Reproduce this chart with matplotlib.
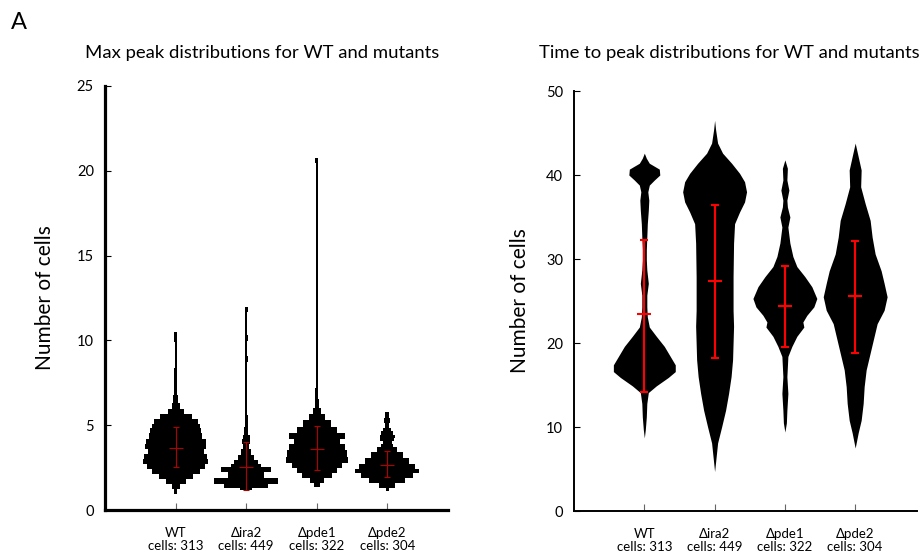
import numpy as np
import matplotlib
matplotlib.use("Agg")
import matplotlib.pyplot as plt

plt.rcParams['font.family'] = ['Lato', 'DejaVu Sans']

groups = ['WT\ncells: 313', '\u0394ira2\ncells: 449', '\u0394pde1\ncells: 322', '\u0394pde2\ncells: 304']

# max peak: violin outlines (y level, half width in relative units)
peak_y = [
    [0.79, 1.08, 1.38, 1.67, 1.97, 2.26, 2.56, 2.85, 3.15, 3.44, 3.73, 4.03, 4.32, 4.72, 4.91,
     5.21, 5.5, 5.8, 6.09, 6.49, 7.08, 7.7, 8.1, 8.6, 9.5, 10.3, 10.67],
    [1.14, 1.25, 1.4, 1.7, 2.05, 2.4, 2.62, 2.85, 3.1, 3.4, 3.75, 4.05, 4.3, 4.6, 5.2, 6.0,
     7.0, 8.5, 8.9, 9.3, 9.8, 10.1, 10.5, 11.5, 11.85, 12.1],
    [1.28, 1.47, 1.77, 2.06, 2.36, 2.65, 2.95, 3.34, 3.73, 4.03, 4.32, 4.72, 5.11, 5.5, 5.8,
     6.2, 6.9, 7.5, 10.0, 15.0, 20.3, 20.6, 20.95],
    [1.1, 1.18, 1.47, 1.77, 2.06, 2.32, 2.56, 2.85, 3.24, 3.63, 3.85, 3.95, 4.15, 4.32, 4.55,
     4.72, 5.0, 5.3, 5.6, 5.99],
]
peak_w = [
    [0, 1.5, 4, 10, 17, 24, 29, 32.3, 31.3, 28, 30.7, 30, 26.7, 25.7, 24,
     22, 16, 8, 4, 2.5, 1.2, 1.5, 1.8, 1, 1, 1.5, 0],
    [0, 6, 22, 32, 18, 25, 15, 12, 8, 5, 3, 4, 3.5, 2, 1.5, 1.2,
     1, 0.8, 1.6, 0.8, 0.8, 1.6, 0.8, 0.8, 1.6, 0],
    [0, 3, 7, 15, 20, 25, 31, 30, 28, 23, 28, 20, 14, 8, 4,
     2, 1.6, 1, 0.8, 0.8, 0.8, 1.5, 0],
    [0, 1.5, 8, 18, 26, 32, 28, 22, 16, 10, 6, 4.5, 7, 7.5, 6,
     4, 2, 3, 2, 0],
]
peak_mean = [3.66, 2.52, 3.58, 2.63]
peak_lo = [2.52, 1.2, 2.34, 1.92]
peak_hi = [4.87, 3.99, 4.95, 3.49]

# time to peak
time_y = [
    [8.7, 9.7, 11.2, 12.8, 14.1, 14.9, 15.9, 16.6, 17.4, 18.4, 19.6, 20.8, 21.9, 23.1, 24.3,
     25.7, 27.1, 28.7, 29.9, 31.1, 32.6, 34.2, 35.8, 37.0, 38.0, 38.8, 39.4, 40.0, 40.7, 41.4,
     42.0, 42.6],
    [4.7, 6.4, 8.1, 10.0, 12.0, 14.0, 16.0, 18.0, 20.0, 22.0, 23.9, 27.9, 31.9, 34.2, 35.6,
     36.8, 38.0, 39.2, 40.2, 41.4, 42.6, 43.8, 45.4, 46.5],
    [9.4, 10.5, 12.0, 14.0, 16.0, 18.4, 19.6, 20.8, 21.9, 22.5, 23.3, 24.3, 25.3, 26.7, 27.9,
     29.1, 30.3, 31.9, 33.8, 35.0, 36.2, 37.0, 38.2, 39.4, 40.8, 41.8],
    [7.5, 9.3, 10.8, 12.8, 14.8, 16.8, 18.8, 20.8, 22.3, 23.9, 25.5, 27.1, 28.6, 30.6, 32.6,
     34.6, 36.6, 38.6, 40.6, 42.2, 43.8],
]
time_w = [
    [0, 1, 2, 2.5, 4, 12, 24, 31, 31, 26, 20, 12, 5, 3, 2.5,
     2.5, 4, 2.5, 2, 2, 2.5, 3, 4, 4.5, 3.5, 5, 10, 15.5, 15, 5,
     2, 0],
    [0, 1.5, 3, 7, 11, 14, 16.5, 18, 18.5, 19, 18.5, 18.5, 19, 20, 25,
     30, 32, 30, 25, 17, 8, 3, 1, 0],
    [0, 1.5, 2, 3, 2, 3, 7, 12, 19, 18, 22, 29, 32, 27, 20,
     12, 8, 5, 3, 5, 2.5, 2, 4, 2, 2.5, 0],
    [0, 3, 6, 8, 9, 11, 15, 19, 22, 29, 32, 29, 26, 20, 17,
     15, 10, 5.5, 6, 3, 0],
]
time_mean = [23.4, 27.4, 24.4, 25.6]
time_lo = [14.2, 18.2, 19.5, 18.8]
time_hi = [32.3, 36.4, 29.2, 32.2]

scale = 1 / 70.4  # relative width -> x axis units

fig = plt.figure(figsize=(9.22, 5.58), dpi=100)
ax1 = fig.add_axes([0.1139, 0.086, 0.372, 0.760])
ax2 = fig.add_axes([0.6226, 0.0842, 0.372, 0.7527])

pos = np.arange(1, 5)


def draw(ax, ys, ws, mean, lo, hi, step, ecol, elw, cap, spine_lw):
    for c, y, w in zip(pos, ys, ws):
        y = np.array(y)
        w = np.array(w) * scale
        ax.fill_betweenx(y, c - w, c + w, color='black', lw=0, step=step)
    mean = np.array(mean)
    ax.errorbar(pos, mean, yerr=[mean - np.array(lo), np.array(hi) - mean], fmt='_',
                color=ecol, ecolor=ecol, elinewidth=elw, capsize=cap, capthick=elw,
                markersize=9.5, markeredgewidth=elw, zorder=3)
    ax.set_xticks(pos)
    ax.set_xticklabels(groups, fontsize=9.5, linespacing=1.15)
    for s in ['top', 'right']:
        ax.spines[s].set_visible(False)
    for s in ['left', 'bottom']:
        ax.spines[s].set_linewidth(spine_lw)
    ax.tick_params(axis='y', direction='in', length=4, width=0.8, labelsize=10.5, pad=8)
    ax.tick_params(axis='x', direction='in', length=5, width=0.8, color='#666666', pad=12)
    ax.set_ylabel('Number of cells', fontsize=15)


draw(ax1, peak_y, peak_w, peak_mean, peak_lo, peak_hi, 'mid', '#b00000', 0.8, 2.2, 2.3)
ax1.set_xlim(0, 4.86)
ax1.set_ylim(0, 25)
ax1.set_yticks([0, 5, 10, 15, 20, 25])
ax1.yaxis.set_label_coords(-0.145, 0.5)

draw(ax2, time_y, time_w, time_mean, time_lo, time_hi, None, '#ff0000', 1.5, 2.9, 1.4)
ax2.set_xlim(0, 4.88)
ax2.set_ylim(0, 50)
ax2.set_yticks([0, 10, 20, 30, 40, 50])
ax2.yaxis.set_label_coords(-0.127, 0.5)

fig.text(0.284, 0.905, 'Max peak distributions for WT and mutants', fontsize=13.3,
         ha='center', va='center')
fig.text(0.791, 0.905, 'Time to peak distributions for WT and mutants', fontsize=13.3,
         ha='center', va='center')
fig.text(0.012, 0.96, 'A', fontsize=17, ha='left', va='center')

fig.savefig('out.png', dpi=100)
